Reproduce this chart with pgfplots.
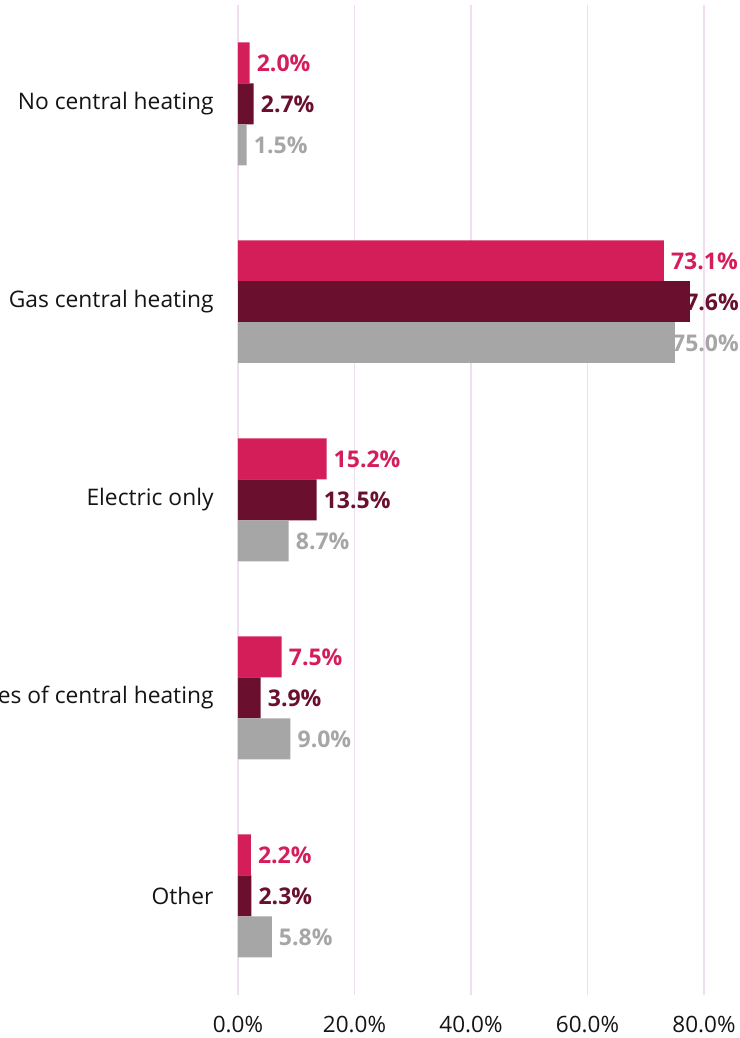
\documentclass[border=0pt]{standalone}
\usepackage{fontspec}
\setmainfont{Open Sans}
\usepackage{pgfplots}
\pgfplotsset{compat=1.18}
\definecolor{cpink}{RGB}{212,30,90}
\definecolor{cdark}{RGB}{106,15,45}
\definecolor{cgrey}{RGB}{166,166,166}
\definecolor{cgrid}{RGB}{240,222,240}
\definecolor{ctext}{RGB}{20,20,20}
\begin{document}
\begin{tikzpicture}[x=1pt,y=1pt]
\useasboundingbox (0,0) rectangle (739,1038);
\clip (0,0) rectangle (739,1038);
\begin{axis}[
  at={(238pt,43pt)}, anchor=south west,
  scale only axis, width=501pt, height=990pt,
  xmin=0, xmax=86.0, ymin=-0.5, ymax=4.5,
  xbar, bar width=41pt,
  axis line style={draw=none},
  tick style={draw=none},
  xmajorgrids, grid style={color=cgrid, line width=1.3pt},
  xtick={0,20,40,60,80},
  xticklabel={\pgfmathprintnumber[fixed,fixed zerofill,precision=1]{\tick}\%},
  xticklabel style={font=\fontsize{22.5}{26}\selectfont, text=ctext, anchor=north, inner sep=0pt, yshift=-21pt},
  ytick={0,1,2,3,4},
  yticklabels={Other, Other types of central heating, Electric only, Gas central heating, No central heating},
  yticklabel style={font=\fontsize{22.8}{26}\selectfont, text=ctext, anchor=east, inner sep=0pt, xshift=-20pt},
  /pgf/number format/assume math mode=true,
  point meta=explicit,
  nodes near coords={\pgfmathprintnumber[fixed,fixed zerofill,precision=1]{\pgfplotspointmeta}\%},
  nodes near coords style={font=\bfseries\fontsize{23}{27}\selectfont, inner sep=0pt},
  clip=false,
]
% pink series
\addplot[draw=none, fill=cpink, bar shift=41pt, nodes near coords style={text=cpink, anchor=west, xshift=7pt}]
  coordinates {(2.0,4) [2.0] (73.1,3) [73.1] (15.2,2) [15.2] (7.5,1) [7.5] (2.2,0) [2.2]};
% dark series
\addplot[draw=none, fill=cdark, bar shift=0pt, nodes near coords style={text=cdark, anchor=west, xshift=7pt}]
  coordinates {(2.7,4) [2.7] (13.5,2) [13.5] (3.9,1) [3.9] (2.3,0) [2.3]};
\addplot[draw=none, fill=cdark, bar shift=0pt, nodes near coords=] coordinates {(77.6,3) [77.6]};
% grey series
\addplot[draw=none, fill=cgrey, bar shift=-41pt, nodes near coords style={text=cgrey, anchor=west, xshift=7pt}]
  coordinates {(1.5,4) [1.5] (8.7,2) [8.7] (9.0,1) [9.0] (5.8,0) [5.8]};
\addplot[draw=none, fill=cgrey, bar shift=-41pt, nodes near coords=] coordinates {(75.0,3) [75.0]};
% labels of the gas bars, pushed inside the plot area as in the original
\addplot[draw=none, fill=none, bar shift=0pt, nodes near coords style={text=cdark, anchor=east}] coordinates {(86.0,3) [77.6]};
\addplot[draw=none, fill=none, bar shift=-41pt, nodes near coords style={text=cgrey, anchor=east}] coordinates {(86.0,3) [75.0]};
\end{axis}
\end{tikzpicture}
\end{document}
